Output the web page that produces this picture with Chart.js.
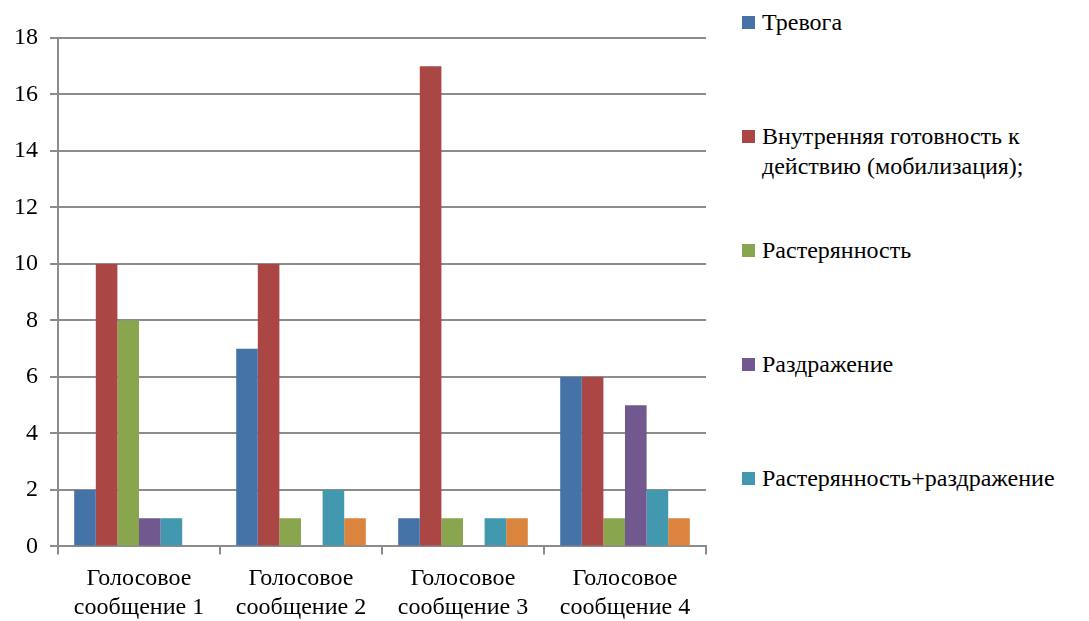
<!DOCTYPE html>
<html lang="ru">
<head>
<meta charset="utf-8">
<title>Эмоциональные реакции на голосовые сообщения</title>
<script src="https://cdn.jsdelivr.net/npm/chart.js@4.4.1/dist/chart.umd.min.js"></script>
<style>
  html, body { margin: 0; padding: 0; background: #fff; }
  #wrap { position: relative; width: 1089px; height: 621px; overflow: hidden; }
  #chartBox { position: absolute; left: 0; top: 0; width: 722px; height: 632px; }
  #legend { position: absolute; left: 742px; top: 7px; font-family: 'Liberation Serif', Tinos, 'Times New Roman', serif; font-size: 24px; color: #000; }
  .item { position: relative; height: 114px; padding-left: 20px; line-height: 30px; white-space: nowrap; }
  .swatch { position: absolute; left: 0; top: 9px; width: 13px; height: 13px; }
</style>
</head>
<body>
<div id="wrap">
  <div id="chartBox"><canvas id="chart"></canvas></div>
  <div id="legend"></div>
</div>
<script>
// Categories and series values
const categories = [
  ['Голосовое', 'сообщение 1'],
  ['Голосовое', 'сообщение 2'],
  ['Голосовое', 'сообщение 3'],
  ['Голосовое', 'сообщение 4']
];
const seriesNames = [
  'Тревога',
  'Внутренняя готовность к действию (мобилизация);',
  'Растерянность',
  'Раздражение',
  'Растерянность+раздражение',
  'Иное'
];
const trevoga = [2, 7, 1, 6];
const mobilizatsiya = [10, 10, 17, 6];
const rasteryannost = [8, 1, 1, 1];
const razdrazhenie = [1, 0, 0, 5];
const rastRazdr = [1, 2, 1, 2];
const inoe = [0, 1, 1, 1];
const yTicks = [0, 2, 4, 6, 8, 10, 12, 14, 16, 18];

const colors = ['#4572A7', '#AA4643', '#89A54E', '#71588F', '#4198AF', '#DB843D'];
const values = [trevoga, mobilizatsiya, rasteryannost, razdrazhenie, rastRazdr, inoe];
// legend shows only the first five series
const legendLines = [
  ['Тревога'],
  ['Внутренняя готовность к', 'действию (мобилизация);'],
  ['Растерянность'],
  ['Раздражение'],
  ['Растерянность+раздражение']
];

const serif = "'Liberation Serif', Tinos, 'Times New Roman', serif";

const datasets = values.map((data, i) => ({
  label: seriesNames[i],
  data: data,
  backgroundColor: colors[i],
  borderWidth: 0,
  categoryPercentage: 0.8,
  barPercentage: 1.0
}));

new Chart(document.getElementById('chart').getContext('2d'), {
  type: 'bar',
  data: { labels: categories, datasets: datasets },
  options: {
    responsive: true,
    maintainAspectRatio: false,
    animation: false,
    layout: { padding: { top: 38, right: 16, left: 2, bottom: 0 } },
    plugins: {
      legend: { display: false },
      tooltip: { enabled: false }
    },
    scales: {
      x: {
        grid: {
          drawOnChartArea: false,
          drawTicks: true,
          tickLength: 8,
          color: '#8c8c8c',
          lineWidth: 2
        },
        border: { color: '#8c8c8c', width: 2 },
        ticks: {
          color: '#000',
          font: { family: serif, size: 24, lineHeight: 1.2 },
          padding: 10,
          maxRotation: 0,
          autoSkip: false
        }
      },
      y: {
        min: 0,
        max: 18,
        afterBuildTicks: (scale) => { scale.ticks = yTicks.map(v => ({ value: v })); },
        grid: {
          color: '#8c8c8c',
          lineWidth: 2,
          tickLength: 8
        },
        border: { color: '#8c8c8c', width: 2 },
        ticks: {
          color: '#000',
          font: { family: serif, size: 24 },
          padding: 12
        }
      }
    }
  }
});

// HTML legend built from the series list
const legend = document.getElementById('legend');
legendLines.forEach((lines, i) => {
  const item = document.createElement('div');
  item.className = 'item';
  item.innerHTML = `<span class="swatch" style="background:${colors[i]}"></span>${lines.join('<br>')}`;
  legend.appendChild(item);
});
</script>
</body>
</html>
